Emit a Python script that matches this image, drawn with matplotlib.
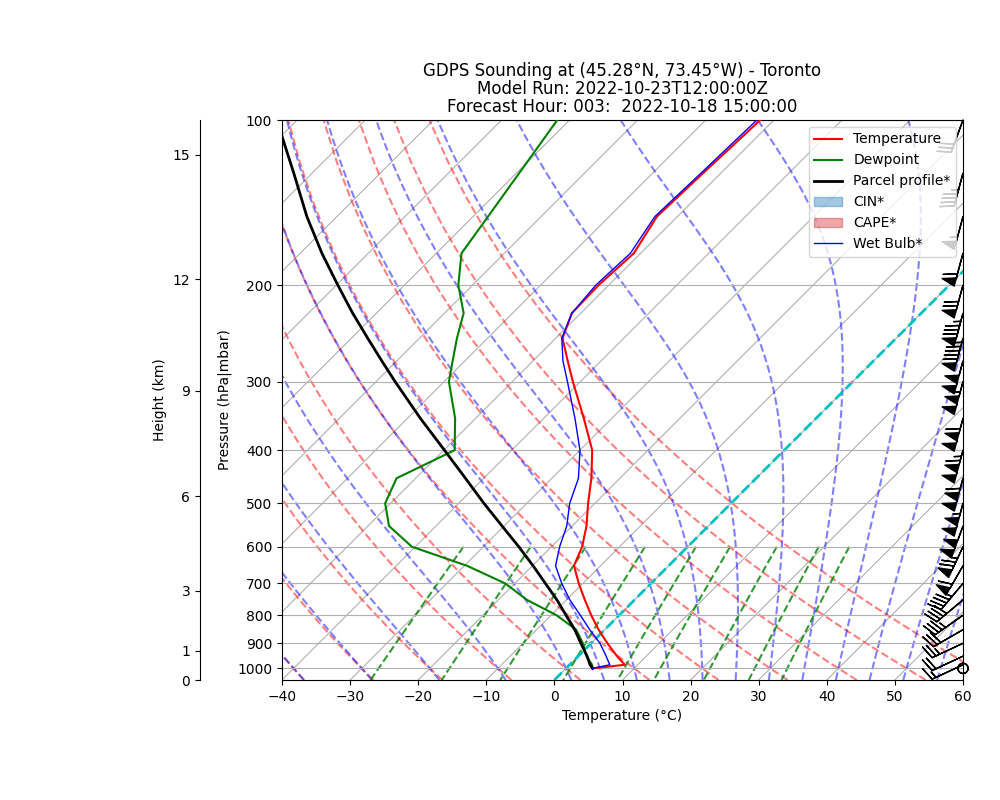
import numpy as np
import matplotlib
matplotlib.use("Agg")
import matplotlib.pyplot as plt
import matplotlib.transforms as mtransforms
from matplotlib.ticker import MultipleLocator, NullLocator
from matplotlib.patches import Patch

# sounding (hPa, degC)
pressure = np.array([1000, 985, 950, 900, 850, 800, 750, 700, 650, 600, 550, 500,
                     450, 400, 350, 300, 275, 250, 225, 200, 175, 150, 125, 100])
temperature = np.array([3.9, 8.1, 5.7, 2.4, -0.9, -4.1, -7.3, -10.6, -13.9, -15.5, -17.9, -21.0,
                        -24.2, -28.2, -34.1, -41.1, -44.9, -49.0, -51.3, -51.5, -51.0, -53.0, -52.6, -52.0])
dewpoint = np.array([3.9, 3.3, 1.2, -1.2, -4.2, -9.2, -15.8, -21.4, -29.6, -40.5, -46.9, -50.8,
                     -52.8, -48.4, -53.0, -59.3, -61.8, -64.5, -67.2, -72.1, -76.3, -77.8, -79.6, -81.8])
wet_bulb = np.array([3.9, 5.9, 4.1, 1.3, -2.2, -5.7, -9.5, -13.1, -16.6, -18.8, -20.8, -23.7,
                     -26.1, -30.0, -35.4, -41.9, -45.6, -49.1, -51.3, -51.9, -51.5, -53.3, -52.9, -52.5])
parcel = np.array([3.9, 3.0, 1.3, -1.5, -4.4, -7.8, -11.4, -15.5, -19.9, -24.8, -30.3, -36.3,
                   -42.7, -49.9, -58.1, -67.2, -72.2, -77.6, -83.5, -89.8, -96.8, -104.4, -112.7, -123.0])

# winds (direction deg, speed kt)
wind_dir = np.array([0, 245, 245, 245, 240, 235, 230, 220, 210, 205, 200, 195,
                     195, 195, 195, 195, 195, 195, 195, 195, 195, 195, 195, 200])
wind_spd = np.array([0, 15, 20, 25, 30, 35, 40, 45, 60, 75, 100, 105,
                     110, 115, 110, 105, 100, 95, 85, 70, 60, 55, 45, 30])

# height axis ticks: km and the pressure where they sit
height_km = ["0", "1", "3", "6", "9", "12", "15"]
height_p = [1050, 929, 722, 485, 312, 195, 115.6]

# background lines
dry_t0 = np.arange(-40, 61, 10)
moist_t0 = np.concatenate((np.arange(-40, 0, 10), np.arange(0, 61, 5)))
mix_ratios = [0.0004, 0.001, 0.002, 0.004, 0.007, 0.01, 0.016, 0.024, 0.032]

Rd, Cp, Lv, eps = 287.04749, 1004.666, 2.50084e6, 0.6219569


def sat_vp(tk):
    tc = tk - 273.15
    return 6.112 * np.exp(17.67 * tc / (tc + 243.5))


def moist_dtdp(p, tk):
    es = sat_vp(tk)
    rs = eps * es / (p - es)
    return (Rd * tk + Lv * rs) / (Cp + Lv ** 2 * rs * eps / (Rd * tk ** 2)) / p


def integrate(tk, path):
    out = [tk]
    for p0, p1 in zip(path[:-1], path[1:]):
        h = p1 - p0
        k1 = moist_dtdp(p0, tk)
        k2 = moist_dtdp(p0 + h / 2, tk + h / 2 * k1)
        k3 = moist_dtdp(p0 + h / 2, tk + h / 2 * k2)
        k4 = moist_dtdp(p1, tk + h * k3)
        tk = tk + h / 6 * (k1 + 2 * k2 + 2 * k3 + k4)
        out.append(tk)
    return np.array(out)


fig = plt.figure(figsize=(10, 8), dpi=100)
pos = [0.282, 0.15, 0.681, 0.70]
ax = fig.add_axes(pos)
ax.set_yscale("log")
ax.set_ylim(1050, 100)
ax.set_xlim(-40, 60)

# 45 degree skew in pixels, anchored at the bottom edge
w_px = fig.get_figwidth() * fig.dpi * pos[2]
h_px = fig.get_figheight() * fig.dpi * pos[3]
skew = mtransforms.Affine2D().skew(np.arctan(h_px / w_px), 0)
tr = ax.transScale + ax.transLimits + skew + ax.transAxes

# isotherms (x grid)
for t in np.arange(-170, 61, 10):
    ax.plot([t, t], [1050, 100], transform=tr, color="#b0b0b0", lw=0.8, zorder=0.5)
ax.yaxis.grid(True, color="#b0b0b0", lw=0.8)

# dry adiabats
p_dry = np.linspace(1050, 100, 50)
for t0 in dry_t0:
    t = (t0 + 273.15) * (p_dry / 1000.0) ** 0.2857 - 273.15
    ax.plot(t, p_dry, transform=tr, color="r", ls="--", lw=1.5, alpha=0.5, zorder=1)

# moist adiabats
p_up = np.linspace(1000, 100, 901)
p_dn = np.linspace(1000, 1050, 51)
t_up = integrate(moist_t0 + 273.15, p_up)
t_dn = integrate(moist_t0 + 273.15, p_dn)
p_moist = np.concatenate((p_dn[::-1], p_up[1:]))
t_moist = np.concatenate((t_dn[::-1], t_up[1:])) - 273.15
for i in range(len(moist_t0)):
    ax.plot(t_moist[:, i], p_moist, transform=tr, color="b", ls="--", lw=1.5, alpha=0.5, zorder=1)

# mixing ratio lines
p_mix = np.linspace(600, 1050, 50)
for w in mix_ratios:
    e = p_mix * w / (eps + w)
    lg = np.log(e / 6.112)
    td = 243.5 * lg / (17.67 - lg)
    ax.plot(td, p_mix, transform=tr, color="g", ls="--", lw=1.5, alpha=0.8, zorder=1)

# 0 degC isotherm
ax.plot([0, 0], [1050, 100], transform=tr, color="c", ls="--", lw=2, zorder=1.5)

ax.plot(temperature, pressure, transform=tr, color="r", lw=1.5, label="Temperature", zorder=3)
ax.plot(dewpoint, pressure, transform=tr, color="g", lw=1.5, label="Dewpoint", zorder=3)
ax.plot(parcel, pressure, transform=tr, color="k", lw=2, label="Parcel profile*", zorder=3)
ax.plot(wet_bulb, pressure, transform=tr, color="b", lw=1, label="Wet Bulb*", zorder=3)

u = -wind_spd * np.sin(np.radians(wind_dir))
v = -wind_spd * np.cos(np.radians(wind_dir))
ax.barbs(np.ones(len(pressure)), pressure, u, v, transform=ax.get_yaxis_transform(),
         clip_on=False, length=7, zorder=4)

ax.set_yticks(np.arange(100, 1001, 100))
ax.set_yticklabels([str(p) for p in range(100, 1001, 100)])
ax.yaxis.set_minor_locator(NullLocator())
ax.xaxis.set_major_locator(MultipleLocator(10))
ax.set_xlabel("Temperature (°C)")
ax.set_ylabel("Pressure (hPa|mbar)")

handles, labels = ax.get_legend_handles_labels()
handles = handles[:3] + [Patch(color="tab:blue", alpha=0.4), Patch(color="tab:red", alpha=0.4)] + handles[3:]
labels = labels[:3] + ["CIN*", "CAPE*"] + labels[3:]
ax.legend(handles, labels, loc="upper right")

ax.set_title("GDPS Sounding at (45.28°N, 73.45°W) - Toronto\n"
             "Model Run: 2022-10-23T12:00:00Z\n"
             "Forecast Hour: 003:  2022-10-18 15:00:00", linespacing=1.0)

# height axis on the left
axh = fig.add_axes([0.2, 0.15, 1e-5, 0.70])
axh.set_yscale("log")
axh.set_ylim(1050, 100)
for s in ["right", "top", "bottom"]:
    axh.spines[s].set_visible(False)
axh.set_xticks([])
axh.set_yticks(height_p)
axh.set_yticklabels(height_km)
axh.yaxis.set_minor_locator(NullLocator())
axh.set_ylabel("Height (km)")

fig.savefig("out.png", dpi=100)
